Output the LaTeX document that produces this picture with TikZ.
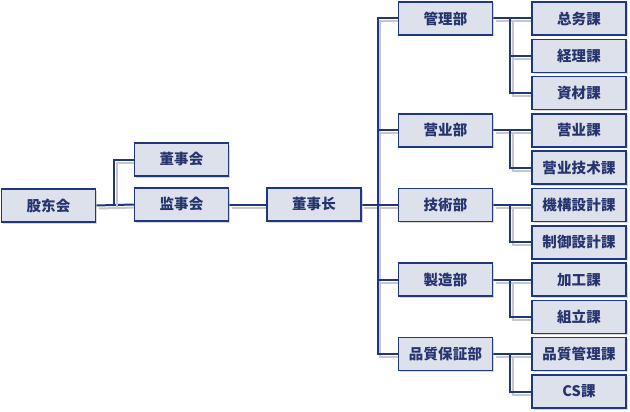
\documentclass[tikz,border=0pt]{standalone}
\usepackage{fontspec}
\usepackage{tikz}
\usetikzlibrary{shadows,backgrounds}
\newfontfamily\cjk[LetterSpace=1]{Noto Sans CJK JP}
\definecolor{navy}{RGB}{30,55,130}
\definecolor{boxfill}{RGB}{221,225,236}
\definecolor{txtblue}{RGB}{38,52,110}
\def\lnk#1;{\draw[lineshade] #1; \draw[line] #1;}

\begin{document}
\begin{tikzpicture}[x=1pt,y=-1pt,
    box/.style={draw=navy,line width=1.5pt,fill=boxfill,text=txtblue,
        minimum width=94pt,minimum height=33pt,inner sep=0pt,
        font=\cjk\bfseries\fontsize{14.5}{16}\selectfont,
        drop shadow={shadow xshift=1.5pt,shadow yshift=-1.5pt,fill=black!30}},
    line/.style={navy,line width=2pt},
    lineshade/.style={black!22,line width=2pt,transform canvas={shift={(2.5pt,-3pt)}}}]
    \useasboundingbox (0,0) rectangle (630,412);
    % left side
    \node[box] (gd)  at (48.5,205.5) {股东会};
    \node[box] (dsh) at (181.5,159.5) {董事会};
    \node[box] (jsh) at (181.5,204.5) {监事会};
    \node[box] (dsz) at (314,204.5) {董事长};
    % departments
    \foreach \name/\row/\txt in {glb/0/管理部, yyb/3/营业部, jsb/5/技術部,
            zzb/7/製造部, pbb/9/品質保証部}
        \node[box] (\name) at (445.5,{18.5+37.3*\row}) {\txt};
    % sections
    \foreach \name/\row/\txt in {zw/0/总务課, jl/1/経理課, zc/2/資材課,
            yk/3/营业課, yj/4/营业技术課, jg/5/機構設計課, zy/6/制御設計課,
            jk/7/加工課, zl/8/組立課, pk/9/品質管理課, cs/10/CS課}
        \node[box] (\name) at (579,{18.5+37.3*\row}) {\txt};
    % connectors
    \begin{scope}[on background layer]
        \lnk (gd.east) -- (jsh.west);
        \lnk (gd.east) ++(18,0) |- (dsh.west);
        \lnk (jsh.east) -- (dsz.west);
        \lnk (dsz.east) -- ++(17,0);
        \lnk (glb.west) -- ++(-20,0) |- (pbb.west);
        \foreach \d in {yyb,jsb,zzb}
            {\lnk (\d.west) -- ++(-20,0);}
        \foreach \d/\a/\b in {glb/zw/zc, yyb/yk/yj, jsb/jg/zy, zzb/jk/zl, pbb/pk/cs}
            {\lnk (\d.east) -- (\a.west);
             \lnk (\d.east) ++(17,0) |- (\b.west);}
        \lnk (glb.east) ++(17,0) |- (jl.west);
    \end{scope}
\end{tikzpicture}
\end{document}
